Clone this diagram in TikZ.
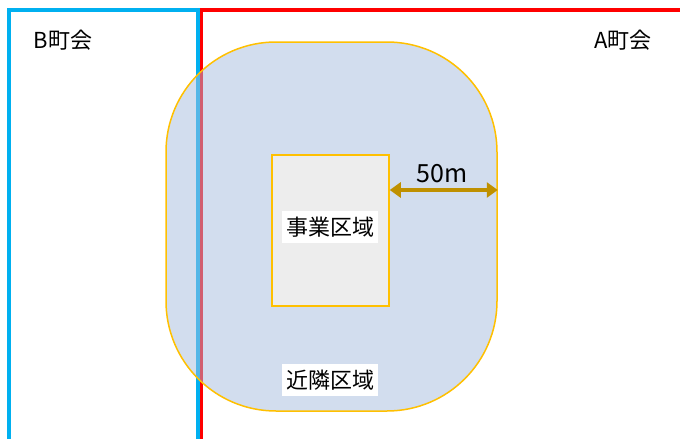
\documentclass[tikz,border=0pt]{standalone}
\usepackage{fontspec}
\setmainfont{Noto Sans CJK JP}
\usetikzlibrary{arrows.meta}
\definecolor{bline}{RGB}{0,176,240}
\definecolor{rline}{RGB}{255,0,0}
\definecolor{blobfill}{RGB}{167,189,223}
\definecolor{gold}{RGB}{255,192,0}
\definecolor{darkgold}{RGB}{191,144,0}
\definecolor{inner}{RGB}{237,237,237}
\tikzset{
  lbl/.style={font=\fontsize{22}{26}\selectfont, text=black},
  whitelbl/.style={lbl, fill=white, inner xsep=4pt, inner ysep=6pt},
}
\begin{document}
\begin{tikzpicture}[x=1pt,y=-1pt]
\useasboundingbox (0,0) rectangle (680,439);
\fill[white] (0,0) rectangle (680,439);
% town boundaries
\draw[bline, line width=3.5pt] (9,441) -- (9,10) -- (198,10) -- (198,441);
\draw[rline, line width=3.5pt] (201.5,441) -- (201.5,10) -- (682,10);
% neighbourhood area
\node[draw=gold, line width=1.5pt, fill=blobfill, fill opacity=0.5,
      minimum width=331, minimum height=369, rounded corners=110, inner sep=0] (blob) at (331.5,226.5) {};
% business area
\node[draw=gold, line width=1.5pt, fill=inner, minimum width=117, minimum height=151, inner sep=0] (biz) at (330.5,230.5) {};
\node[whitelbl] (bizlbl) at (330,227) {事業区域};
\node[whitelbl] (nearlbl) at (330,380) {近隣区域};
% 50m arrow
\coordinate (a1) at (biz.east |- 0,190);
\coordinate (a2) at (blob.east |- 0,190);
\draw[darkgold, line width=4pt, {Triangle[length=11pt,width=15pt]}-{Triangle[length=11pt,width=15pt]}] (a1) -- (a2);
\node[font=\fontsize{25}{28}\selectfont] (dist) at (442,174) {50m};
% town labels
\node[lbl] (blbl) at (63,40) {B町会};
\node[lbl] (albl) at (623,40) {A町会};
\end{tikzpicture}
\end{document}
